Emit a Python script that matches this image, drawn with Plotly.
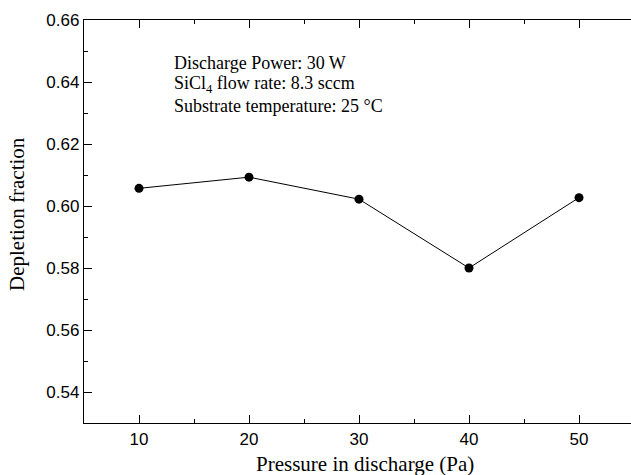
import plotly.graph_objects as go

pressure = [10, 20, 30, 40, 50]
depletion = [0.6057, 0.6093, 0.6022, 0.5800, 0.6027]
x_ticks = [10, 20, 30, 40, 50]
y_ticks = [0.54, 0.56, 0.58, 0.60, 0.62, 0.64, 0.66]
y_labels = ["0.54", "0.56", "0.58", "0.60", "0.62", "0.64", "0.66"]
notes = ["Discharge Power: 30 W", "SiCl<sub>4</sub> flow rate: 8.3 sccm", "Substrate temperature: 25 °C"]
x_title = "Pressure in discharge (Pa)"
y_title = "Depletion fraction"

W, H = 640, 475
L, R, T, B = 84, 0, 20, 52
PW, PH = W - L - R, H - T - B

fig = go.Figure()
fig.add_trace(go.Scatter(
    x=pressure, y=depletion, mode="lines+markers",
    line=dict(color="black", width=1),
    marker=dict(color="black", size=9),
    showlegend=False,
))

axis_common = dict(
    showline=True, linecolor="black", linewidth=1.3, mirror="allticks",
    ticks="inside", ticklen=8, tickwidth=1.3, tickcolor="black",
    showgrid=False, zeroline=False, automargin=False,
    tickfont=dict(family="Liberation Sans, Arial", size=17, color="black"),
)

fig.update_xaxes(
    range=[5, 5 + PW / 11.0], tickvals=x_ticks,
    minor=dict(dtick=5, tick0=5, ticks="inside", ticklen=4, tickwidth=1.3, tickcolor="black"),
    **axis_common,
)
fig.update_yaxes(
    range=[0.53, 0.66], tickvals=y_ticks, ticktext=y_labels,
    minor=dict(dtick=0.01, tick0=0.53, ticks="inside", ticklen=4, tickwidth=1.3, tickcolor="black"),
    **axis_common,
)

serif = dict(family="Liberation Serif, Times New Roman", color="black")

fig.add_annotation(
    text=x_title, xref="paper", yref="paper",
    x=(365 - L) / PW, y=(T + PH - 464) / PH,
    xanchor="center", yanchor="middle", showarrow=False,
    font=dict(size=21, **serif),
)
fig.add_annotation(
    text=y_title, xref="paper", yref="paper",
    x=(17 - L) / PW, y=(T + PH - 214) / PH, textangle=-90,
    xanchor="center", yanchor="middle", showarrow=False,
    font=dict(size=21, **serif),
)

line_y = [63, 84, 106]
for txt, py in zip(notes, line_y):
    fig.add_annotation(
        text=txt, xref="paper", yref="paper",
        x=(172 - L) / PW, y=(T + PH - py) / PH,
        xanchor="left", yanchor="middle", showarrow=False,
        font=dict(size=18, **serif),
    )

fig.update_layout(
    width=W, height=H,
    margin=dict(l=L, r=R, t=T, b=B),
    paper_bgcolor="white", plot_bgcolor="white",
)

fig.write_html(
    "out.html",
    config={"displayModeBar": False},
    post_script="document.body.style.margin='0';document.body.style.overflow='hidden';",
)
